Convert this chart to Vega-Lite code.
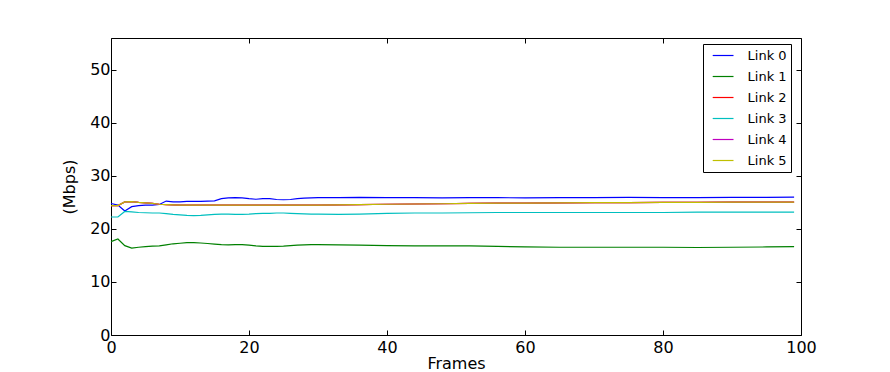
{
  "$schema": "https://vega.github.io/schema/vega-lite/v6.json",
  "width": 690,
  "height": 297,
  "autosize": {"type": "none"},
  "padding": {"left": 111, "top": 38, "right": 89, "bottom": 37},
  "background": "white",
  "config": {
    "view": {"stroke": "black", "strokeWidth": 1},
    "font": "DejaVu Sans",
    "axis": {
      "grid": false,
      "domain": false,
      "tickColor": "black",
      "tickWidth": 1,
      "tickSize": -5,
      "labelColor": "black",
      "labelFont": "DejaVu Sans",
      "labelFontSize": 16,
      "titleFont": "DejaVu Sans",
      "titleFontSize": 16,
      "titleFontWeight": "normal",
      "titleColor": "black",
      "labelFlush": false,
      "labelOverlap": false
    }
  },
  "datasets": {
    "d": [
      {"f":0,"s":"Link 0","v":24.8},{"f":1,"s":"Link 0","v":24.5},{"f":2,"s":"Link 0","v":23.4},{"f":3,"s":"Link 0","v":24.2},{"f":4,"s":"Link 0","v":24.4},{"f":5,"s":"Link 0","v":24.5},{"f":6,"s":"Link 0","v":24.5},{"f":7,"s":"Link 0","v":24.6},{"f":8,"s":"Link 0","v":25.25},{"f":9,"s":"Link 0","v":25.1},{"f":10,"s":"Link 0","v":25.1},{"f":11,"s":"Link 0","v":25.2},{"f":12,"s":"Link 0","v":25.2},{"f":13,"s":"Link 0","v":25.2},{"f":14,"s":"Link 0","v":25.25},{"f":15,"s":"Link 0","v":25.3},{"f":16,"s":"Link 0","v":25.7},{"f":17,"s":"Link 0","v":25.85},{"f":18,"s":"Link 0","v":25.9},{"f":19,"s":"Link 0","v":25.85},{"f":20,"s":"Link 0","v":25.7},{"f":21,"s":"Link 0","v":25.6},{"f":22,"s":"Link 0","v":25.7},{"f":23,"s":"Link 0","v":25.7},{"f":24,"s":"Link 0","v":25.55},{"f":25,"s":"Link 0","v":25.5},{"f":26,"s":"Link 0","v":25.55},{"f":27,"s":"Link 0","v":25.7},{"f":28,"s":"Link 0","v":25.8},{"f":29,"s":"Link 0","v":25.85},{"f":30,"s":"Link 0","v":25.9},{"f":33,"s":"Link 0","v":25.9},{"f":36,"s":"Link 0","v":25.95},{"f":40,"s":"Link 0","v":25.9},{"f":44,"s":"Link 0","v":25.9},{"f":48,"s":"Link 0","v":25.85},{"f":52,"s":"Link 0","v":25.9},{"f":56,"s":"Link 0","v":25.9},{"f":60,"s":"Link 0","v":25.85},{"f":65,"s":"Link 0","v":25.9},{"f":70,"s":"Link 0","v":25.9},{"f":75,"s":"Link 0","v":25.95},{"f":80,"s":"Link 0","v":25.9},{"f":85,"s":"Link 0","v":25.9},{"f":90,"s":"Link 0","v":25.95},{"f":95,"s":"Link 0","v":25.95},{"f":99,"s":"Link 0","v":26.0},

      {"f":0,"s":"Link 1","v":17.6},{"f":1,"s":"Link 1","v":18.1},{"f":2,"s":"Link 1","v":16.85},{"f":3,"s":"Link 1","v":16.4},{"f":4,"s":"Link 1","v":16.55},{"f":5,"s":"Link 1","v":16.65},{"f":6,"s":"Link 1","v":16.75},{"f":7,"s":"Link 1","v":16.8},{"f":8,"s":"Link 1","v":17.0},{"f":9,"s":"Link 1","v":17.2},{"f":10,"s":"Link 1","v":17.3},{"f":11,"s":"Link 1","v":17.4},{"f":12,"s":"Link 1","v":17.4},{"f":13,"s":"Link 1","v":17.35},{"f":14,"s":"Link 1","v":17.25},{"f":15,"s":"Link 1","v":17.15},{"f":16,"s":"Link 1","v":17.05},{"f":17,"s":"Link 1","v":17.0},{"f":18,"s":"Link 1","v":17.05},{"f":19,"s":"Link 1","v":17.05},{"f":20,"s":"Link 1","v":16.95},{"f":21,"s":"Link 1","v":16.8},{"f":22,"s":"Link 1","v":16.7},{"f":23,"s":"Link 1","v":16.7},{"f":24,"s":"Link 1","v":16.7},{"f":25,"s":"Link 1","v":16.75},{"f":26,"s":"Link 1","v":16.85},{"f":27,"s":"Link 1","v":16.95},{"f":28,"s":"Link 1","v":17.0},{"f":29,"s":"Link 1","v":17.05},{"f":30,"s":"Link 1","v":17.05},{"f":33,"s":"Link 1","v":17.0},{"f":36,"s":"Link 1","v":16.95},{"f":40,"s":"Link 1","v":16.85},{"f":44,"s":"Link 1","v":16.8},{"f":48,"s":"Link 1","v":16.8},{"f":52,"s":"Link 1","v":16.8},{"f":56,"s":"Link 1","v":16.7},{"f":60,"s":"Link 1","v":16.6},{"f":65,"s":"Link 1","v":16.55},{"f":70,"s":"Link 1","v":16.55},{"f":75,"s":"Link 1","v":16.55},{"f":80,"s":"Link 1","v":16.55},{"f":85,"s":"Link 1","v":16.5},{"f":90,"s":"Link 1","v":16.55},{"f":95,"s":"Link 1","v":16.6},{"f":99,"s":"Link 1","v":16.65},

      {"f":0,"s":"Link 2","v":24.4},{"f":1,"s":"Link 2","v":24.4},{"f":2,"s":"Link 2","v":25.1},{"f":3,"s":"Link 2","v":25.15},{"f":4,"s":"Link 2","v":25.0},{"f":5,"s":"Link 2","v":24.9},{"f":6,"s":"Link 2","v":24.8},{"f":7,"s":"Link 2","v":24.65},{"f":8,"s":"Link 2","v":24.6},{"f":9,"s":"Link 2","v":24.55},{"f":10,"s":"Link 2","v":24.5},{"f":15,"s":"Link 2","v":24.5},{"f":20,"s":"Link 2","v":24.5},{"f":25,"s":"Link 2","v":24.5},{"f":30,"s":"Link 2","v":24.5},{"f":33,"s":"Link 2","v":24.55},{"f":36,"s":"Link 2","v":24.6},{"f":40,"s":"Link 2","v":24.65},{"f":44,"s":"Link 2","v":24.7},{"f":48,"s":"Link 2","v":24.75},{"f":52,"s":"Link 2","v":24.8},{"f":56,"s":"Link 2","v":24.85},{"f":60,"s":"Link 2","v":24.85},{"f":65,"s":"Link 2","v":24.9},{"f":70,"s":"Link 2","v":24.95},{"f":75,"s":"Link 2","v":24.95},{"f":80,"s":"Link 2","v":25.0},{"f":85,"s":"Link 2","v":25.0},{"f":90,"s":"Link 2","v":25.05},{"f":95,"s":"Link 2","v":25.05},{"f":99,"s":"Link 2","v":25.05},

      {"f":0,"s":"Link 3","v":22.25},{"f":1,"s":"Link 3","v":22.25},{"f":2,"s":"Link 3","v":23.3},{"f":3,"s":"Link 3","v":23.2},{"f":4,"s":"Link 3","v":23.1},{"f":5,"s":"Link 3","v":23.05},{"f":6,"s":"Link 3","v":23.0},{"f":7,"s":"Link 3","v":23.0},{"f":8,"s":"Link 3","v":22.9},{"f":9,"s":"Link 3","v":22.75},{"f":10,"s":"Link 3","v":22.65},{"f":11,"s":"Link 3","v":22.55},{"f":12,"s":"Link 3","v":22.5},{"f":13,"s":"Link 3","v":22.55},{"f":14,"s":"Link 3","v":22.65},{"f":15,"s":"Link 3","v":22.75},{"f":16,"s":"Link 3","v":22.8},{"f":17,"s":"Link 3","v":22.8},{"f":18,"s":"Link 3","v":22.75},{"f":19,"s":"Link 3","v":22.75},{"f":20,"s":"Link 3","v":22.8},{"f":21,"s":"Link 3","v":22.9},{"f":22,"s":"Link 3","v":22.95},{"f":23,"s":"Link 3","v":22.95},{"f":24,"s":"Link 3","v":23.0},{"f":25,"s":"Link 3","v":23.0},{"f":26,"s":"Link 3","v":22.95},{"f":27,"s":"Link 3","v":22.9},{"f":28,"s":"Link 3","v":22.85},{"f":29,"s":"Link 3","v":22.8},{"f":30,"s":"Link 3","v":22.8},{"f":33,"s":"Link 3","v":22.75},{"f":36,"s":"Link 3","v":22.8},{"f":40,"s":"Link 3","v":22.95},{"f":44,"s":"Link 3","v":23.0},{"f":48,"s":"Link 3","v":23.0},{"f":52,"s":"Link 3","v":23.05},{"f":56,"s":"Link 3","v":23.1},{"f":60,"s":"Link 3","v":23.1},{"f":65,"s":"Link 3","v":23.1},{"f":70,"s":"Link 3","v":23.1},{"f":75,"s":"Link 3","v":23.1},{"f":80,"s":"Link 3","v":23.1},{"f":85,"s":"Link 3","v":23.15},{"f":90,"s":"Link 3","v":23.15},{"f":95,"s":"Link 3","v":23.15},{"f":99,"s":"Link 3","v":23.15},

      {"f":0,"s":"Link 4","v":24.4},{"f":1,"s":"Link 4","v":24.4},{"f":2,"s":"Link 4","v":25.1},{"f":3,"s":"Link 4","v":25.15},{"f":4,"s":"Link 4","v":25.0},{"f":5,"s":"Link 4","v":24.9},{"f":6,"s":"Link 4","v":24.8},{"f":7,"s":"Link 4","v":24.65},{"f":8,"s":"Link 4","v":24.6},{"f":9,"s":"Link 4","v":24.55},{"f":10,"s":"Link 4","v":24.5},{"f":15,"s":"Link 4","v":24.5},{"f":20,"s":"Link 4","v":24.5},{"f":25,"s":"Link 4","v":24.5},{"f":30,"s":"Link 4","v":24.5},{"f":33,"s":"Link 4","v":24.55},{"f":36,"s":"Link 4","v":24.6},{"f":40,"s":"Link 4","v":24.65},{"f":44,"s":"Link 4","v":24.7},{"f":48,"s":"Link 4","v":24.75},{"f":52,"s":"Link 4","v":24.8},{"f":56,"s":"Link 4","v":24.85},{"f":60,"s":"Link 4","v":24.85},{"f":65,"s":"Link 4","v":24.9},{"f":70,"s":"Link 4","v":24.95},{"f":75,"s":"Link 4","v":24.95},{"f":80,"s":"Link 4","v":25.0},{"f":85,"s":"Link 4","v":25.0},{"f":90,"s":"Link 4","v":25.05},{"f":95,"s":"Link 4","v":25.05},{"f":99,"s":"Link 4","v":25.05},

      {"f":0,"s":"Link 5","v":24.4},{"f":1,"s":"Link 5","v":24.4},{"f":2,"s":"Link 5","v":25.1},{"f":3,"s":"Link 5","v":25.15},{"f":4,"s":"Link 5","v":25.0},{"f":5,"s":"Link 5","v":24.9},{"f":6,"s":"Link 5","v":24.8},{"f":7,"s":"Link 5","v":24.65},{"f":8,"s":"Link 5","v":24.6},{"f":9,"s":"Link 5","v":24.55},{"f":10,"s":"Link 5","v":24.5},{"f":15,"s":"Link 5","v":24.5},{"f":20,"s":"Link 5","v":24.5},{"f":25,"s":"Link 5","v":24.5},{"f":30,"s":"Link 5","v":24.5},{"f":33,"s":"Link 5","v":24.55},{"f":36,"s":"Link 5","v":24.6},{"f":40,"s":"Link 5","v":24.65},{"f":44,"s":"Link 5","v":24.7},{"f":48,"s":"Link 5","v":24.75},{"f":52,"s":"Link 5","v":24.8},{"f":56,"s":"Link 5","v":24.85},{"f":60,"s":"Link 5","v":24.85},{"f":65,"s":"Link 5","v":24.9},{"f":70,"s":"Link 5","v":24.95},{"f":75,"s":"Link 5","v":24.95},{"f":80,"s":"Link 5","v":25.0},{"f":85,"s":"Link 5","v":25.0},{"f":90,"s":"Link 5","v":25.05},{"f":95,"s":"Link 5","v":25.05},{"f":99,"s":"Link 5","v":25.05}
    ]
  },
  "data": {"name": "d"},
  "layer": [
    {
      "mark": {"type": "line", "strokeWidth": 1.2},
      "encoding": {
        "x": {"field": "f", "type": "quantitative", "scale": {"domain": [0, 100], "nice": false, "zero": false},
              "axis": {"title": "Frames", "values": [0, 20, 40, 60, 80, 100], "labelPadding": 9, "titlePadding": 0}},
        "y": {"field": "v", "type": "quantitative", "scale": {"domain": [0, 56], "nice": false},
              "axis": {"title": "(Mbps)", "values": [0, 10, 20, 30, 40, 50], "labelPadding": 6, "titlePadding": 12}},
        "color": {"field": "s", "type": "nominal",
                  "scale": {"domain": ["Link 0", "Link 1", "Link 2", "Link 3", "Link 4", "Link 5"],
                            "range": ["#0000ff", "#008000", "#ff0000", "#00bfbf", "#bf00bf", "#bfbf00"]},
                  "legend": {"orient": "none", "legendX": 592, "legendY": 6, "title": null,
                             "strokeColor": "black", "fillColor": "white", "padding": 4, "cornerRadius": 0,
                             "symbolType": "M-1.6,0H1.6", "symbolSize": 169, "symbolStrokeWidth": 1.2,
                             "symbolOffset": 8.6,
                             "labelFont": "DejaVu Sans", "labelFontSize": 13, "labelColor": "black",
                             "labelExpr": "datum.label + ' '",
                             "labelOffset": 17, "rowPadding": 6}}
      }
    },
    {
      "mark": {"type": "point", "opacity": 0},
      "encoding": {
        "x": {"field": "f", "type": "quantitative", "scale": {"domain": [0, 100], "nice": false, "zero": false},
              "axis": {"orient": "top", "title": null, "labels": false, "values": [0, 20, 40, 60, 80, 100]}},
        "y": {"field": "v", "type": "quantitative", "scale": {"domain": [0, 56], "nice": false},
              "axis": {"orient": "right", "title": null, "labels": false, "values": [0, 10, 20, 30, 40, 50]}}
      }
    }
  ],
  "resolve": {"scale": {"x": "independent", "y": "independent"}, "axis": {"x": "independent", "y": "independent"}}
}
